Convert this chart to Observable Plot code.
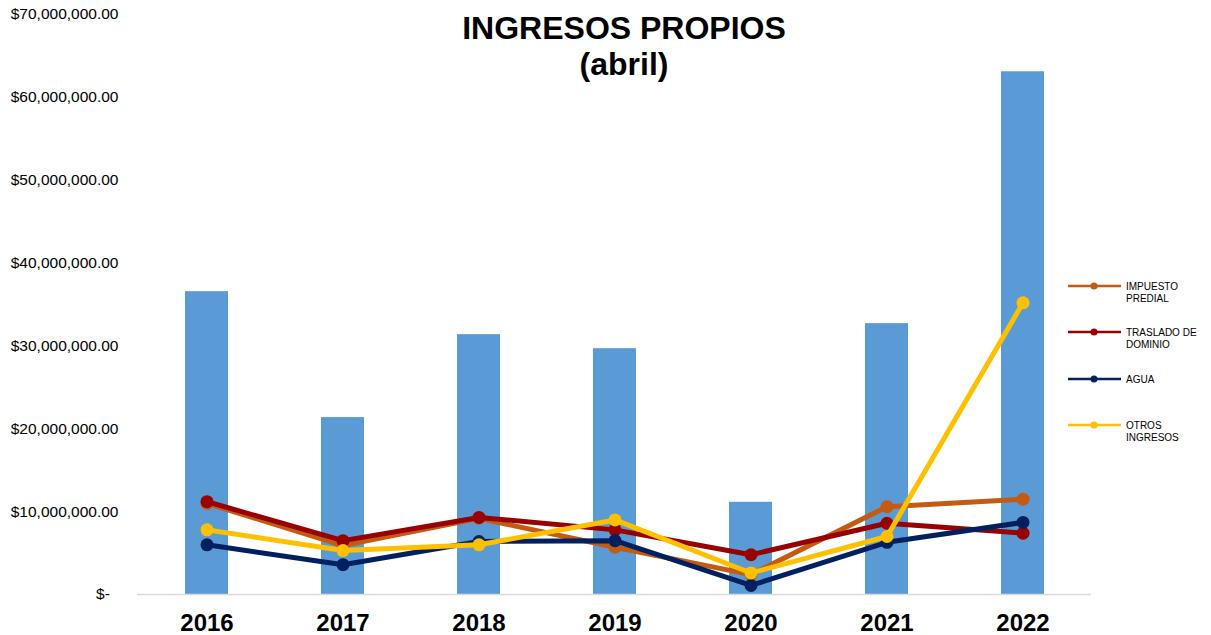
<!DOCTYPE html>
<html>
<head>
<meta charset="utf-8">
<script src="https://cdn.jsdelivr.net/npm/d3@7"></script>
<script src="https://cdn.jsdelivr.net/npm/@observablehq/plot@0.6"></script>
<style>
  body { margin: 0; background: #fff; }
  #wrap { position: relative; width: 1211px; height: 635px; font-family: "Liberation Sans", Arial, sans-serif; }
  #title { position: absolute; left: 374px; width: 500px; top: 10px; text-align: center; font-weight: bold; font-size: 32px; line-height: 36px; color: #000; }
  #legend { position: absolute; left: 1060px; top: 270px; }
</style>
</head>
<body>
<div id="wrap">
  <div id="chart"></div>
  <div id="title">INGRESOS PROPIOS<br>(abril)</div>
  <svg id="legend" width="151" height="180"></svg>
</div>
<script>
const years = ["2016", "2017", "2018", "2019", "2020", "2021", "2022"];
const totals = [36.55e6, 21.35e6, 31.36e6, 29.67e6, 11.13e6, 32.69e6, 63.09e6];
const impuestoPredial = [11.0e6, 5.9e6, 9.2e6, 5.7e6, 2.4e6, 10.6e6, 11.5e6];
const trasladoDominio = [11.2e6, 6.5e6, 9.3e6, 7.8e6, 4.8e6, 8.6e6, 7.4e6];
const agua = [6.0e6, 3.6e6, 6.4e6, 6.5e6, 1.1e6, 6.3e6, 8.7e6];
const otrosIngresos = [7.8e6, 5.3e6, 6.0e6, 9.0e6, 2.6e6, 7.0e6, 35.2e6];
const seriesNames = ["IMPUESTO PREDIAL", "TRASLADO DE DOMINIO", "AGUA", "OTROS INGRESOS"];
const seriesLegendLines = [["IMPUESTO", "PREDIAL"], ["TRASLADO DE", "DOMINIO"], ["AGUA"], ["OTROS", "INGRESOS"]];
const seriesColors = ["#C55A11", "#990000", "#002060", "#FFC000"];
const yTicks = [0, 10e6, 20e6, 30e6, 40e6, 50e6, 60e6, 70e6];

const seriesValues = [impuestoPredial, trasladoDominio, agua, otrosIngresos];
const bars = years.map((y, i) => ({year: y, value: totals[i]}));
const lineData = seriesNames.map((name, s) => years.map((y, i) => ({year: y, value: seriesValues[s][i], series: name})));

const fmt = d3.format(",.2f");
const chart = Plot.plot({
  width: 1211,
  height: 635,
  marginTop: 14,
  marginBottom: 41,
  marginLeft: 137,
  marginRight: 120,
  style: {fontFamily: '"Liberation Sans", Arial, sans-serif', color: "#000", background: "#fff"},
  x: {domain: years, paddingInner: 0.685, paddingOuter: 0.3425, label: null},
  y: {domain: [0, 70e6], label: null},
  marks: [
    Plot.barY(bars, {x: "year", y: "value", fill: "#5B9BD5"}),
    Plot.ruleY([0], {stroke: "#D9D9D9", strokeWidth: 1.5}),
    ...lineData.map((data, s) => [
      Plot.line(data, {x: "year", y: "value", stroke: seriesColors[s], strokeWidth: 5, strokeLinejoin: "round"}),
      Plot.dot(data, {x: "year", y: "value", fill: seriesColors[s], r: 6.5})
    ]).flat(),
    Plot.axisY({ticks: yTicks, tickSize: 0, tickPadding: 19, fontSize: 15.5,
      tickFormat: d => d === 0 ? "$-\u00a0\u00a0" : "$" + fmt(d)}),
    Plot.axisX({tickSize: 0, tickPadding: 19, fontSize: 24, fontWeight: "bold"})
  ]
});
document.getElementById("chart").appendChild(chart);

// legend
const lg = d3.select("#legend");
const itemY = [16, 62, 109, 155];
seriesNames.forEach((name, s) => {
  const g = lg.append("g").attr("transform", `translate(0,${itemY[s]})`);
  g.append("line").attr("x1", 8).attr("x2", 61).attr("y1", 0).attr("y2", 0)
    .attr("stroke", seriesColors[s]).attr("stroke-width", 2.5);
  g.append("circle").attr("cx", 34).attr("cy", 0).attr("r", 3.5).attr("fill", seriesColors[s]);
  const t = g.append("text").attr("x", 66).attr("y", 0)
    .attr("font-family", '"Liberation Sans", Arial, sans-serif').attr("font-size", 10).attr("fill", "#000");
  seriesLegendLines[s].forEach((ln, j) => {
    t.append("tspan").attr("x", 66).attr("dy", j === 0 ? "0.35em" : "1.2em").text(ln);
  });
});
</script>
</body>
</html>
